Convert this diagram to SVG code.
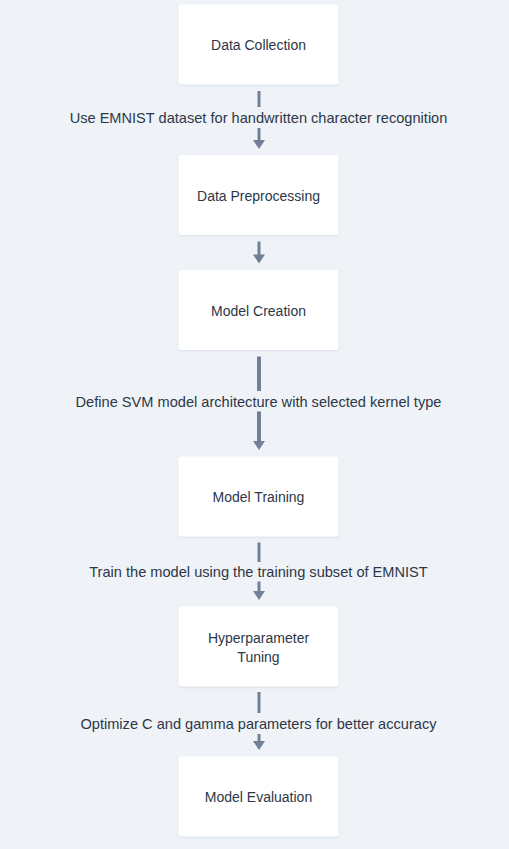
<svg xmlns="http://www.w3.org/2000/svg" width="509" height="849" viewBox="0 0 509 849">
  <style>
    .node rect { fill: #ffffff; rx: 3px; ry: 3px; }
    .lbl { font-family: "Liberation Sans", Arial, sans-serif; font-size: 14px; fill: #2d3748; text-anchor: middle; }
    .elbl { font-size: 14.6px; }
    .edge { stroke: #718096; stroke-width: 3; fill: none; }
    .edge.thick { stroke-width: 4; }
  </style>
  <defs>
    <filter id="sh" x="-10%" y="-10%" width="120%" height="130%">
      <feDropShadow dx="0" dy="1" stdDeviation="1" flood-color="#94a3b8" flood-opacity="0.25"/>
    </filter>
    <marker id="arr" markerUnits="userSpaceOnUse" markerWidth="12" markerHeight="14" viewBox="0 -7 10 14" refX="1" refY="0" orient="auto">
      <path d="M0,-6 L9,0 L0,6 z" fill="#718096"/>
    </marker>
  </defs>
  <rect width="509" height="849" fill="#eff3f7"/>

  <g id="connectors">
    <line class="edge" x1="259" y1="91" x2="259" y2="107"/>
    <line class="edge" x1="259" y1="128" x2="259" y2="141" marker-end="url(#arr)"/>
    <text class="lbl elbl" x="258.5" y="123">Use EMNIST dataset for handwritten character recognition</text>

    <line class="edge" x1="259" y1="241.5" x2="259" y2="255.5" marker-end="url(#arr)"/>

    <line class="edge thick" x1="259" y1="356.5" x2="259" y2="391"/>
    <line class="edge thick" x1="259" y1="411.5" x2="259" y2="442" marker-end="url(#arr)"/>
    <text class="lbl elbl" x="258.5" y="407">Define SVM model architecture with selected kernel type</text>

    <line class="edge" x1="259" y1="542.5" x2="259" y2="562"/>
    <line class="edge" x1="259" y1="581.5" x2="259" y2="592" marker-end="url(#arr)"/>
    <text class="lbl elbl" x="258.5" y="577">Train the model using the training subset of EMNIST</text>

    <line class="edge" x1="259" y1="692" x2="259" y2="713"/>
    <line class="edge" x1="259" y1="734" x2="259" y2="742" marker-end="url(#arr)"/>
    <text class="lbl elbl" x="258.5" y="728.5">Optimize C and gamma parameters for better accuracy</text>
  </g>

  <g id="node-data-collection" class="node">
    <rect x="178.5" y="4.5" width="160" height="80" filter="url(#sh)"/>
    <text class="lbl" x="258.5" y="50">Data Collection</text>
  </g>
  <g id="node-data-preprocessing" class="node">
    <rect x="178.5" y="155" width="160" height="80" filter="url(#sh)"/>
    <text class="lbl" x="258.5" y="201">Data Preprocessing</text>
  </g>
  <g id="node-model-creation" class="node">
    <rect x="178.5" y="270" width="160" height="80" filter="url(#sh)"/>
    <text class="lbl" x="258.5" y="316">Model Creation</text>
  </g>
  <g id="node-model-training" class="node">
    <rect x="178.5" y="456.5" width="160" height="80" filter="url(#sh)"/>
    <text class="lbl" x="258.5" y="501.5">Model Training</text>
  </g>
  <g id="node-hyperparameter-tuning" class="node">
    <rect x="178.5" y="606.5" width="160" height="80" filter="url(#sh)"/>
    <text class="lbl" x="258.5" y="642.5">Hyperparameter</text>
    <text class="lbl" x="258.5" y="662">Tuning</text>
  </g>
  <g id="node-model-evaluation" class="node">
    <rect x="178.5" y="756.5" width="160" height="80" filter="url(#sh)"/>
    <text class="lbl" x="258.5" y="802">Model Evaluation</text>
  </g>
</svg>
